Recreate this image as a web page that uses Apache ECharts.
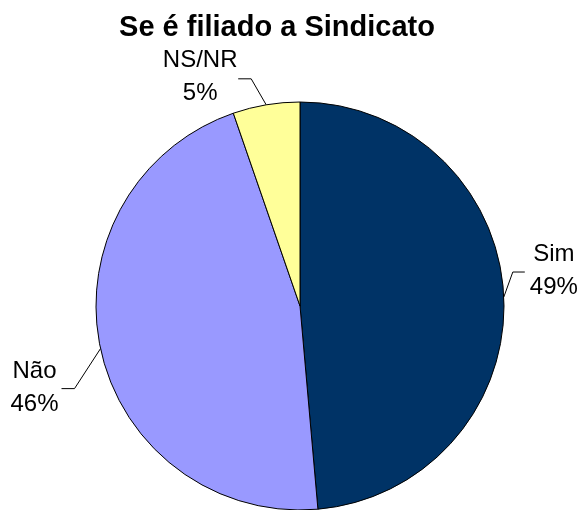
<!DOCTYPE html>
<html>
<head>
<meta charset="utf-8">
<script src="https://cdn.jsdelivr.net/npm/echarts@6/dist/echarts.min.js"></script>
<style>
html,body{margin:0;padding:0;background:#fff;}
#chart{width:581px;height:510px;}
</style>
</head>
<body>
<div id="chart"></div>
<script>
// ---- data ----
const titleText = 'Se é filiado a Sindicato';
const categories = ['Sim', 'Não', 'NS/NR'];
const values = [48.6, 46.1, 5.3];

// ---- styles ----
const sliceColors = ['#003366', '#9999FF', '#FFFF99'];
// label placement relative to the slice edge anchor (style only)
const labelOffsets = [
  { text: [50, -26], p1: [9, -25], p2: [21, -25] },
  { text: [-66, 39], p1: [-26, 40], p2: [-39, 40] },
  { text: [-66, -28], p1: [-15, -26], p2: [-28, -26] }
];

const chart = echarts.init(document.getElementById('chart'), null, { renderer: 'canvas' });
chart.setOption({
  animation: false,
  backgroundColor: '#ffffff',
  title: {
    text: titleText,
    left: 272,
    top: 8,
    textAlign: 'center',
    textStyle: { fontFamily: 'Liberation Sans, Arial, sans-serif', fontSize: 29, fontWeight: 'bold', color: '#000' }
  },
  series: [{
    type: 'pie',
    center: [300, 306],
    radius: 204,
    startAngle: 90,
    clockwise: true,
    silent: true,
    emphasis: { disabled: true },
    color: sliceColors,
    itemStyle: { borderColor: '#000', borderWidth: 1 },
    data: categories.map((c, i) => ({ name: c, value: values[i] })),
    label: {
      show: true,
      position: 'outside',
      alignTo: 'none',
      overflow: 'none',
      formatter: p => p.name + '\n' + Math.round(p.percent) + '%',
      fontFamily: 'Liberation Sans, Arial, sans-serif',
      fontSize: 24,
      lineHeight: 33,
      color: '#000'
    },
    labelLine: { show: true, length: 10, length2: 10, lineStyle: { color: '#000', width: 1 } },
    labelLayout: function (params) {
      const o = labelOffsets[params.dataIndex];
      const p0 = params.labelLinePoints[0];
      return {
        x: p0[0] + o.text[0],
        y: p0[1] + o.text[1],
        align: 'center',
        verticalAlign: 'middle',
        width: 120,
        labelLinePoints: [
          [p0[0], p0[1]],
          [p0[0] + o.p1[0], p0[1] + o.p1[1]],
          [p0[0] + o.p2[0], p0[1] + o.p2[1]]
        ]
      };
    }
  }]
});
</script>
</body>
</html>
